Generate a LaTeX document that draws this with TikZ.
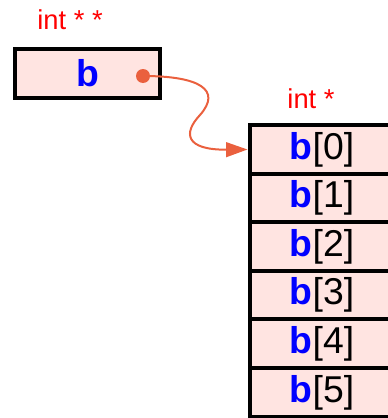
\documentclass[tikz,border=0pt]{standalone}
\usepackage{fontspec}
\setmainfont{Liberation Sans}
\usetikzlibrary{arrows.meta,positioning}
\definecolor{cellpink}{RGB}{255,228,225}
\definecolor{ptrred}{RGB}{234,96,62}

\begin{document}
\begin{tikzpicture}[
  x=0.75pt,y=-0.75pt,
  box/.style={draw,line width=3pt,fill=cellpink,inner sep=0pt,minimum width=108.75pt,minimum height=36.6pt,font=\fontsize{28}{30}\selectfont},
  lab/.style={text=red,font=\fontsize{20.5}{22}\selectfont},
  ar/.style={-{Triangle[length=16pt,width=11pt]},draw=ptrred,line width=1.5pt}]

 \useasboundingbox (0,0) rectangle (388,418);
 \clip (0,0) rectangle (388,418);

 % ---- pointer to pointer ----
 \node[lab] (tb) at (70,20) {int * *};
 \node[box] (b) at (87.5,73.5) {\textcolor{blue}{\textbf{b}}};
 \node[circle,fill=ptrred,inner sep=0pt,minimum size=10.5pt] (dot) at (143,76) {};

 % ---- array of int ----
 \node[lab] (ta) at (311,99) {int *};
 \node[box] (c0) at (322,149.5) {\textcolor{blue}{\textbf{b}}[0]};
 \node[box] (c1) at (322,198) {\textcolor{blue}{\textbf{b}}[1]};
 \node[box] (c2) at (322,246.5) {\textcolor{blue}{\textbf{b}}[2]};
 \node[box] (c3) at (322,295) {\textcolor{blue}{\textbf{b}}[3]};
 \node[box] (c4) at (322,343.5) {\textcolor{blue}{\textbf{b}}[4]};
 \node[box] (c5) at (322,392.5) {\textcolor{blue}{\textbf{b}}[5]};

 \draw[ar] (dot.center) .. controls (200,76) and (222,90) .. (200,115)
   .. controls (183,133) and (185,150) .. (c0.west);
\end{tikzpicture}
\end{document}
